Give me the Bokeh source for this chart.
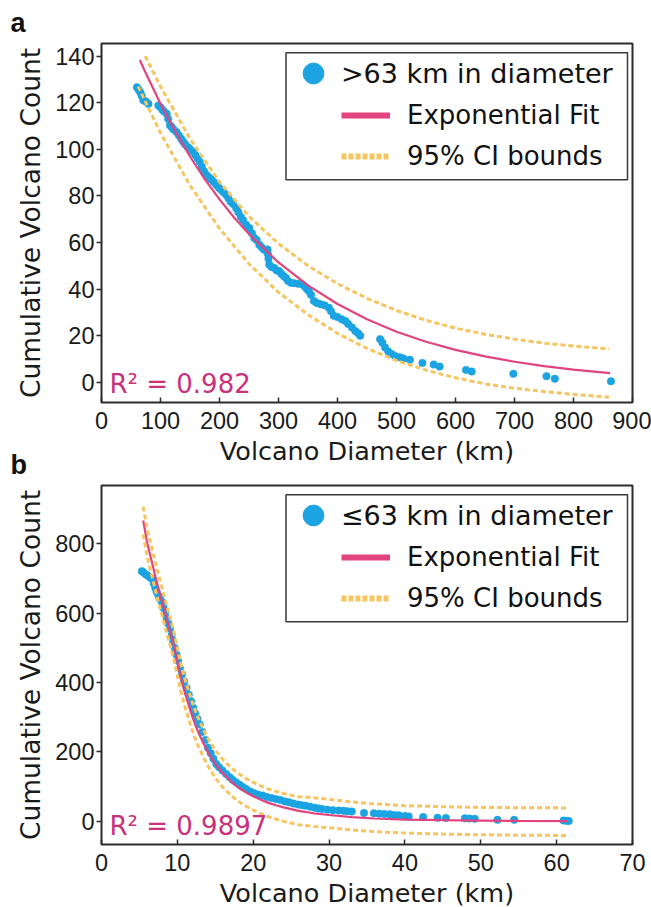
from bokeh.plotting import figure
from bokeh.models import (Legend, LegendItem, Label, BoxAnnotation, FixedTicker, Range1d)
from bokeh.layouts import column
from bokeh.embed import file_html
from bokeh.resources import INLINE

# ---------------- data: panel a (> 63 km) ----------------
xa = [60, 63, 65.6, 68, 71, 75, 79.6, 96.4, 100, 103, 106, 110.5, 113, 116, 119, 122, 127, 131, 135,
      138.5, 142, 146, 150, 155, 159, 163, 166.5, 170, 174, 177.8, 182, 186, 190, 194.6, 199, 203, 207,
      211.4, 215, 219, 223, 228.3, 232, 236, 240, 245, 250.6, 255, 259, 263, 267.5, 271, 275, 279, 281.4,
      282, 283, 284.3, 288, 293, 297, 301, 305, 309, 312.4, 316, 320.8, 326, 333, 340.3, 345, 348, 351.6,
      355, 360, 365, 371.3, 378, 385.2, 389, 393.6, 400, 407, 413.3, 418, 424.5, 430, 435, 438.5, 472.2,
      476, 480.6, 486, 491.8, 498, 505.8, 512, 522.7, 543.9, 563, 573.1, 617.9, 627.5, 698.1, 754.2,
      768.3, 863.5]
ya = [126.6, 125.5, 124.5, 123, 121, 120.5, 119.5, 118.8, 118, 117, 116.2, 115.2, 113, 110.3, 109.5,
      108.5, 107.4, 106, 104.5, 103.2, 102, 101, 100, 98.9, 97.5, 96, 94.6, 92.5, 90.5, 89, 88, 87, 86,
      84.7, 83.5, 82.5, 81.5, 80.4, 79, 77.5, 76.5, 74.7, 73, 71, 69.5, 67.6, 66.2, 64, 61.9, 61, 59, 58,
      57, 56.5, 57, 55, 53, 50.5, 49.5, 49, 48, 47.7, 46.5, 45.5, 44.8, 43.5, 42.7, 42.5, 42.3, 42, 41,
      40, 39.1, 37.5, 34.9, 34, 33.5, 33, 32, 30.5, 28.5, 28, 27, 26.3, 25, 23.5, 22, 21, 19.9, 18.5, 17,
      14.9, 13.2, 12.1, 11.2, 10.7, 10.2, 9.6, 8.3, 7.6, 6.7, 5.3, 4.6, 3.6, 2.6, 1.5, 0.4]
fit_a_x = [65, 75, 100, 125, 150, 175, 200, 225, 250, 300, 350, 400, 450, 500, 550, 600, 650, 700, 750, 800, 862]
fit_a_y = [138.3, 132.7, 119.5, 107.6, 96.9, 87.2, 78.5, 70.6, 63.6, 51.4, 41.6, 33.6, 27.0, 21.7, 17.4,
           13.9, 11.1, 8.8, 6.9, 5.4, 3.9]
up_a_x = [74, 100, 150, 200, 250, 300, 350, 400, 450, 500, 550, 600, 650, 700, 750, 800, 860]
up_a_y = [140, 127, 104.5, 86, 71.2, 59.5, 50, 42.3, 36, 30.8, 26.6, 23.2, 20.6, 18.5, 16.8, 15.5, 14.3]
lo_a_x = [62, 100, 150, 200, 250, 300, 350, 400, 450, 500, 550, 600, 650, 700, 750, 800, 860]
lo_a_y = [127, 107, 84.5, 66, 50.8, 38.6, 29, 21, 14.5, 9.3, 5.2, 1.9, -0.7, -2.6, -4.0, -5.2, -6.4]

# ---------------- data: panel b (<= 63 km) ----------------
xb = [5.32, 5.5, 5.8, 6.1, 6.4, 6.63, 6.9, 7.1, 7.28, 7.5, 7.7, 7.94, 8.15, 8.37, 8.6, 8.8, 9.03, 9.25,
      9.45, 9.68, 9.9, 10.1, 10.34, 10.6, 10.9, 11.21, 11.5, 11.8, 12.08, 12.35, 12.65, 12.95, 13.3, 13.7,
      14.04, 14.4, 14.75, 15.13, 15.5, 15.95, 16.44, 16.9, 17.3, 17.75, 18.2, 18.6, 19.06, 19.6, 20.1,
      20.6, 21.24, 21.8, 22.4, 22.99, 23.6, 24.2, 24.73, 25.3, 25.9, 26.4, 26.91, 27.5, 28.1, 28.6, 29.09,
      29.8, 30.5, 31.27, 31.9, 32.4, 33.0, 34.6, 35.9, 36.6, 37.3, 38.0, 38.6, 39.2, 40.0, 40.5, 42.4,
      44.3, 45.4, 47.9, 48.5, 49.2, 52.2, 54.4, 60.9, 61.3, 61.6]
yb = [721, 718, 712, 708, 703, 699, 685, 672, 661, 650, 641, 633, 616, 599, 584, 570, 556, 537, 518, 499,
      480, 462, 441, 424, 404, 384, 365, 346, 327, 311, 295, 279, 257, 234, 212, 196, 180, 165, 156, 146,
      136, 127, 119, 112, 105, 99, 93, 86, 81, 77, 74, 70, 67, 64, 61, 57, 54.5, 51, 48, 46.5, 45, 42, 39,
      37, 35.5, 33, 32, 30.7, 30, 29, 28, 24, 23, 22, 21, 20, 18, 17, 15, 14, 12, 10, 9.5, 8.5, 8, 7, 4, 4,
      2, 1.5, 0.5]
fit_b_x = [5.5, 6.0, 6.5, 7.0, 7.5, 8.0, 8.5, 9.0, 9.5, 10.0, 10.5, 11.0, 11.5, 12.0, 12.5, 13.0, 13.5,
           14.0, 15.0, 16.0, 17.0, 18.0, 19.0, 20.0, 21.0, 22.0, 23.0, 24.0, 25.0, 26.0, 28.0, 30.0, 33.0,
           36.0, 40.0, 45.0, 50.0, 55.0, 61.5]
fit_b_y = [867, 805, 760, 715, 672, 632, 590, 550, 510, 460, 410, 370, 335, 300, 270, 245, 222, 200, 165,
           138, 116, 98, 84, 72, 62, 53, 46, 40, 35, 30, 23, 18, 12, 8, 5, 3, 2, 1, 0.5]
up_b_y = [907, 845, 800, 755, 712, 672, 630, 590, 550, 500, 450, 410, 375, 340, 310, 285, 262, 240, 205,
          178, 156, 138, 124, 112, 102, 93, 86, 80, 75, 71, 68, 63, 56, 50, 45, 42, 40, 39, 38.5]
lo_b_y = [827, 765, 720, 675, 632, 592, 550, 510, 470, 420, 370, 330, 295, 260, 230, 205, 182, 160, 125,
          98, 76, 58, 44, 32, 22, 13, 6, 0, -5, -10, -15, -19, -25, -30, -34, -37, -39, -40, -41]

xticks_a = [0, 100, 200, 300, 400, 500, 600, 700, 800, 900]
yticks_a = [0, 20, 40, 60, 80, 100, 120, 140]
xticks_b = [0, 10, 20, 30, 40, 50, 60, 70]
yticks_b = [0, 200, 400, 600, 800]

BLUE = "#1ba3e2"
PINK = "#e1447e"
RSQ = "#c8327c"
GOLD = "#f6c560"
FONT = "DejaVu Sans"
TICKFONT = "Liberation Sans"
DARK = "#2b2b2b"
NAN = float("nan")

FW, FH = 531, 361   # frame size in pixels


def make_panel(height, btop, bbottom, xr, yr, xt, yt, xs, ys, fx, fy, ux, uy, lx, ly,
               leg_label, rsq, tag, **extra):
    p = figure(width=651, height=height, x_range=Range1d(*xr), y_range=Range1d(*yr),
               output_backend="svg", toolbar_location=None, title=tag,
               min_border_left=101, min_border_right=651 - 101 - FW, min_border_top=btop,
               min_border_bottom=bbottom, background_fill_color="white", **extra)
    p.title.align = "left"
    p.title.offset = -91
    p.title.standoff = 11
    p.title.text_font = "Liberation Sans"
    p.title.text_font_style = "bold"
    p.title.text_font_size = "27px"
    p.title.text_color = "#111111"

    p.xgrid.grid_line_color = None
    p.ygrid.grid_line_color = None
    p.outline_line_color = DARK
    p.outline_line_width = 2
    p.outline_line_alpha = 1

    for ax in (p.xaxis[0], p.yaxis[0]):
        ax.axis_line_color = None
        ax.minor_tick_line_color = None
        ax.major_tick_line_color = DARK
        ax.major_tick_line_width = 1.5
        ax.major_label_text_font = TICKFONT
        ax.major_label_text_font_size = "23.5px"
        ax.major_label_text_color = "#1a1a1a"
        ax.axis_label_text_font = FONT
        ax.axis_label_text_font_style = "normal"
        ax.axis_label_text_color = "#1a1a1a"
    p.xaxis.ticker = FixedTicker(ticks=xt)
    p.yaxis.ticker = FixedTicker(ticks=yt)
    p.xaxis.major_tick_in = 5
    p.xaxis.major_tick_out = 0
    p.xaxis.major_label_standoff = 9
    p.xaxis.axis_label = "Volcano Diameter (km)"
    p.xaxis.axis_label_text_font_size = "25.5px"
    p.xaxis.axis_label_standoff = 4
    p.yaxis.major_tick_in = 0
    p.yaxis.major_tick_out = 5
    p.yaxis.major_label_standoff = 2
    p.yaxis.axis_label = "Cumulative Volcano Count"
    p.yaxis.axis_label_text_font_size = "26.5px"
    p.yaxis.axis_label_standoff = 6

    # data
    p.scatter(xs, ys, size=7.5, fill_color=BLUE, line_color=BLUE, line_width=0.5)
    p.line(fx, fy, line_color=PINK, line_width=2.2)
    p.line(ux, uy, line_color=GOLD, line_width=3, line_dash="5 3")
    p.line(lx, ly, line_color=GOLD, line_width=3, line_dash="5 3")

    # legend-only renderers (no visible data)
    d_sc = p.scatter([NAN], [NAN], size=21, fill_color=BLUE, line_color=BLUE)
    d_fit = p.line([NAN, NAN], [NAN, NAN], line_color=PINK, line_width=6)
    d_ci = p.line([NAN, NAN], [NAN, NAN], line_color=GOLD, line_width=6, line_dash="5 2")

    # legend frame (frame pixels converted to data units)
    def px2x(px):
        return xr[0] + px / FW * (xr[1] - xr[0])

    def py2y(py_from_top):
        return yr[1] - py_from_top / FH * (yr[1] - yr[0])

    box = BoxAnnotation(left=px2x(184.5), right=px2x(526), top=py2y(9.3), bottom=py2y(137),
                        fill_alpha=0, line_color="#3a3a3a", line_width=1.5, line_alpha=1)
    p.add_layout(box)

    common = dict(padding=0, margin=0, border_line_color=None, background_fill_alpha=0,
                  label_text_font=FONT, label_text_color="#111111", inactive_fill_alpha=0)
    legA = Legend(items=[LegendItem(label=leg_label, renderers=[d_sc])], location=(186, 302.7),
                  glyph_width=52, glyph_height=52, label_standoff=2, label_height=30, spacing=0,
                  label_text_font_size="27px", **common)
    legB = Legend(items=[LegendItem(label="Exponential Fit", renderers=[d_fit]),
                         LegendItem(label="95% CI bounds", renderers=[d_ci])],
                  location=(240, 231.2), glyph_width=49, glyph_height=30, label_height=30,
                  spacing=11, label_standoff=17, label_text_font_size="26px", **common)
    p.add_layout(legA)
    p.add_layout(legB)

    p.add_layout(Label(x=8, y=19, x_units="screen", y_units="screen", text=rsq,
                       text_font=FONT, text_font_size="26px", text_color=RSQ,
                       text_baseline="middle"))
    return p


pa = make_panel(468, 41, 66, (0, 900), (-8.7, 145.4), xticks_a, yticks_a, xa, ya,
                fit_a_x, fit_a_y, up_a_x, up_a_y, lo_a_x, lo_a_y,
                ">63 km in diameter", "R\u00b2 = 0.982", "a", border_fill_color="white")
pb = make_panel(468, 41, 66, (0, 70), (-67, 968), xticks_b, yticks_b, xb, yb,
                fit_b_x, fit_b_y, fit_b_x, up_b_y, fit_b_x, lo_b_y,
                "\u226463 km in diameter", "R\u00b2 = 0.9897", "b",
                border_fill_alpha=0, margin=(-26, 0, 0, 0))

layout = column(pa, pb, spacing=0)
open("out.html", "w").write(file_html(layout, INLINE))
